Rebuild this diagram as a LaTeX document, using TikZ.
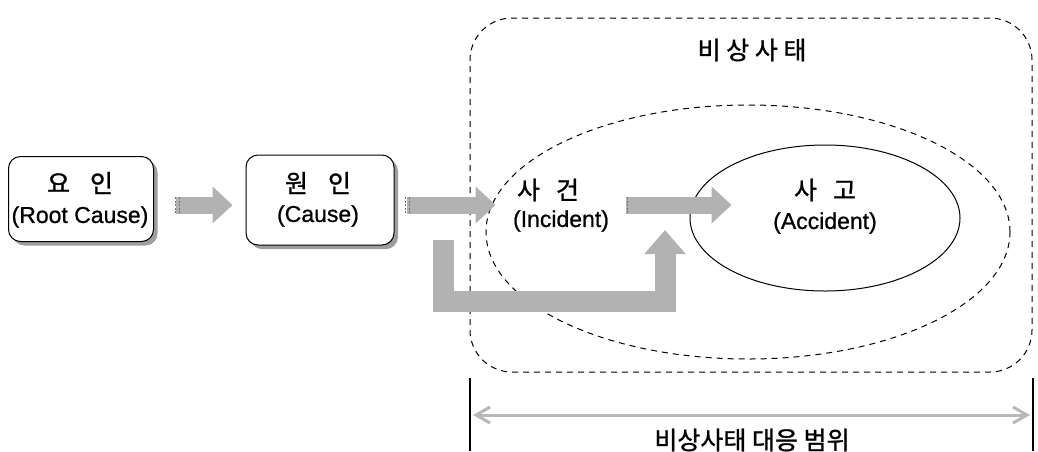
\documentclass[tikz,border=0pt]{standalone}
\usepackage{fontspec}
\setmainfont{Liberation Sans}[FakeBold=0.8]
\newfontfamily\kr{Noto Sans CJK KR}[FakeBold=1.2]
\usetikzlibrary{arrows.meta,shapes.geometric,shadows,positioning}
\tikzset{
  causebox/.style={draw, line width=1pt, rounded corners=12pt, fill=white,
    align=center, inner sep=0pt,
    drop shadow={shadow xshift=4pt, shadow yshift=-4pt, fill=black!38, opacity=1}},
  dashline/.style={draw, line width=1pt, dash pattern=on 6pt off 5pt},
  fatarrow/.style={draw=black!30, line width=17pt,
    -{Triangle[length=20pt,width=36pt]}},
  tailmark/.style={draw=black!55, line width=0.9pt, dash pattern=on 2pt off 1.5pt},
  krtext/.style={font=\kr\fontsize{25}{27}\selectfont},
  latext/.style={font=\fontsize{23}{25}\selectfont},
}
\begin{document}
\begin{tikzpicture}[x=1pt,y=-1pt]
\useasboundingbox (0,0) rectangle (1038,451);

% emergency region and the incident / accident ellipses
\node[dashline, rounded corners=42pt, minimum width=562pt, minimum height=354pt]
  (emg) at (751,195) {};
\node[krtext] (emgtxt) at (752,50) {비 상 사 태};
\node[dashline, ellipse, minimum width=524pt, minimum height=254pt, inner sep=0pt]
  (inc) at (748,232) {};
\node[draw, line width=1pt, ellipse, minimum width=270pt, minimum height=146pt,
  inner sep=0pt] (acc) at (825,218) {};

% labels
\node[causebox, minimum width=145pt, minimum height=85pt] (r1) at (81,199) {};
\node[krtext] (r1a) at (80,183) {요\hspace{20pt}인};
\node[latext] (r1b) at (80,217) {(Root Cause)};
\node[causebox, minimum width=148pt, minimum height=90pt] (r2) at (320,200) {};
\node[krtext] (r2a) at (318,183) {원\hspace{20pt}인};
\node[latext] (r2b) at (318,216) {(Cause)};
\node[krtext] (inca) at (548,190) {사\hspace{16pt}건};
\node[latext] (incb) at (561,221) {(Incident)};
\node[krtext] (acca) at (825,190) {사\hspace{16pt}고};
\node[latext] (accb) at (825,223) {(Accident)};

% fat grey arrows
\coordinate (a1s) at ([xshift=22pt]r1.east |- 0,205);
\coordinate (a1e) at ([xshift=-13pt]r2.west |- 0,205);
\coordinate (a2s) at ([xshift=12pt]r2.east |- 0,205);
\coordinate (a2e) at ([xshift=10pt]inc.west |- 0,205);
\coordinate (a3s) at (626,205);
\coordinate (a3e) at ([xshift=42pt]acc.west |- 0,205);
\draw[fatarrow] (a1s) -- (a1e);
\draw[fatarrow] (a2s) -- (a2e);
\draw[fatarrow] (a3s) -- (a3e);
\foreach \c/\d in {a1s/0, a1s/4, a2s/0, a2s/4, a3s/2} {
  \draw[tailmark] ([xshift=\d pt-1pt, yshift=-8pt]\c) -- ([xshift=\d pt-1pt, yshift=8pt]\c);
}

% bypass arrow from the cause straight to the accident
\coordinate (bs) at (443,240);
\coordinate (bm) at (665,301);
\coordinate (be) at (665,230);
\draw[fatarrow, line width=21pt, line join=miter,
  -{Triangle[length=24pt,width=40pt]}] (bs) |- (bm) -- (be);

% response range
\coordinate (rl) at (470,378);
\coordinate (rr) at (1033,378);
\draw[line width=1.6pt] (rl) -- (rl |- 0,451);
\draw[line width=1.6pt] (rr) -- (rr |- 0,451);
\coordinate (rla) at ([xshift=3pt]rl |- 0,415);
\coordinate (rra) at ([xshift=-3pt]rr |- 0,415);
\draw[draw=black!28, line width=3pt,
  {Straight Barb[length=14pt,width=16pt]}-{Straight Barb[length=14pt,width=16pt]}]
  (rla) -- (rra);
\node[krtext] (rangetxt) at (752,440) {비상사태 대응 범위};
\end{tikzpicture}
\end{document}
